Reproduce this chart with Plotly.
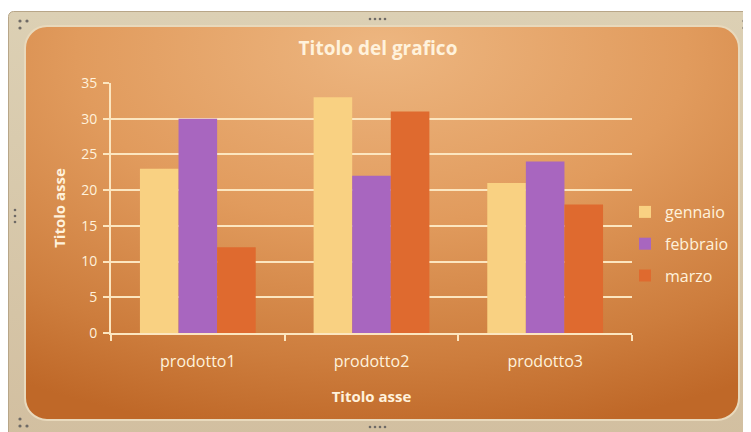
import base64
import plotly.graph_objects as go

categories = ['prodotto1', 'prodotto2', 'prodotto3']
gennaio = [23, 33, 21]
febbraio = [30, 22, 24]
marzo = [12, 31, 18]

SERIES = [
    ('gennaio', gennaio, '#F9D182'),
    ('febbraio', febbraio, '#A866BF'),
    ('marzo', marzo, '#DF6A2F'),
]

# the page body has an 8px margin, so the figure is 8px smaller than the window
W, H = 743, 424
L, R, T, B = 103, 119, 75, 99
FONT = 'Open Sans, sans-serif'
TEXT = '#FFF2DC'
GRID = '#FCE6C0'

# excel-like chart area: beige selection frame + orange radial gradient
svg = f"""<svg xmlns='http://www.w3.org/2000/svg' width='{W}' height='{H}' viewBox='0 0 {W} {H}'>
<defs>
<radialGradient id='g' cx='0.5' cy='0.1' r='0.95' fx='0.5' fy='0.05'>
<stop offset='0' stop-color='#EDB680'/>
<stop offset='0.45' stop-color='#E19B5D'/>
<stop offset='0.8' stop-color='#CD7D3D'/>
<stop offset='1' stop-color='#BF6828'/>
</radialGradient>
<linearGradient id='f' x1='0' y1='0' x2='0' y2='1'>
<stop offset='0' stop-color='#DCD0B4'/>
<stop offset='1' stop-color='#D2BFA0'/>
</linearGradient>
</defs>
<rect x='0' y='0' width='{W}' height='{H}' fill='white'/>
<rect x='0.5' y='3.5' width='741' height='430' rx='5' fill='url(#f)' stroke='#B8A688' stroke-width='1'/>
<rect x='17' y='18' width='714' height='394' rx='22' fill='url(#g)' stroke='#E8D9BC' stroke-width='2'/>
<g fill='#6E6A66'>
<circle cx='12' cy='13' r='1.6'/><circle cx='19' cy='13' r='1.6'/><circle cx='12' cy='20' r='1.6'/>
<circle cx='736' cy='13' r='1.6'/><circle cx='736' cy='20' r='1.6'/>
<circle cx='12' cy='418' r='1.6'/><circle cx='19' cy='418' r='1.6'/><circle cx='12' cy='411' r='1.6'/>
<circle cx='362' cy='11' r='1.3'/><circle cx='367' cy='11' r='1.3'/><circle cx='372' cy='11' r='1.3'/><circle cx='377' cy='11' r='1.3'/>
<circle cx='362' cy='419' r='1.3'/><circle cx='367' cy='419' r='1.3'/><circle cx='372' cy='419' r='1.3'/><circle cx='377' cy='419' r='1.3'/>
<circle cx='7' cy='202' r='1.3'/><circle cx='7' cy='208' r='1.3'/><circle cx='7' cy='214' r='1.3'/>
<circle cx='738' cy='202' r='1.3'/><circle cx='738' cy='208' r='1.3'/><circle cx='738' cy='214' r='1.3'/>
</g>
</svg>"""
bg_uri = 'data:image/svg+xml;base64,' + base64.b64encode(svg.encode()).decode()

pw, ph = W - L - R, H - T - B

fig = go.Figure()
for name, vals, color in SERIES:
    fig.add_trace(go.Bar(
        x=categories, y=vals, name=name,
        marker=dict(color=color, line=dict(width=0)),
        legendgroup=name,
    ))

fig.update_layout(
    width=W, height=H,
    margin=dict(l=L, r=R, t=T, b=B, autoexpand=False),
    paper_bgcolor='rgba(0,0,0,0)',
    plot_bgcolor='rgba(0,0,0,0)',
    barmode='group',
    bargap=1 / 3,
    bargroupgap=0,
    font=dict(family=FONT, color=TEXT, size=13),
    title=dict(text='<b>Titolo del grafico</b>', xref='container', x=370 / W, xanchor='center',
               yref='container', y=1 - 40 / H, yanchor='middle',
               font=dict(size=19, color=TEXT, family=FONT)),
    showlegend=True,
    legend=dict(xref='container', x=617 / W, xanchor='left',
                yref='container', y=1 - 236 / H, yanchor='middle',
                font=dict(size=16, color=TEXT, family=FONT),
                bgcolor='rgba(0,0,0,0)', tracegroupgap=8, itemwidth=30),
    images=[dict(source=bg_uri, xref='paper', yref='paper',
                 x=-L / pw, y=1 + T / ph, sizex=W / pw, sizey=H / ph,
                 xanchor='left', yanchor='top', sizing='stretch', layer='below')],
)

fig.update_yaxes(
    range=[0, 35], dtick=5, showgrid=True, gridcolor=GRID, gridwidth=2,
    showline=True, linecolor=GRID, linewidth=2,
    ticks='outside', ticklen=6, tickcolor=GRID, tickwidth=2, ticklabelstandoff=3,
    zeroline=False, tickfont=dict(size=14, color=TEXT), automargin=False,
    title=dict(text='<b>Titolo asse</b>', font=dict(size=15, color=TEXT), standoff=12),
)
fig.update_xaxes(
    showline=True, linecolor=GRID, linewidth=2,
    ticks='outside', ticklen=6, tickcolor=GRID, tickwidth=2, tickson='boundaries',
    ticklabelstandoff=13,
    tickfont=dict(size=16, color=TEXT), automargin=False,
    title=dict(text='<b>Titolo asse</b>', font=dict(size=15, color=TEXT), standoff=20),
)

fig.write_html('out.html')
